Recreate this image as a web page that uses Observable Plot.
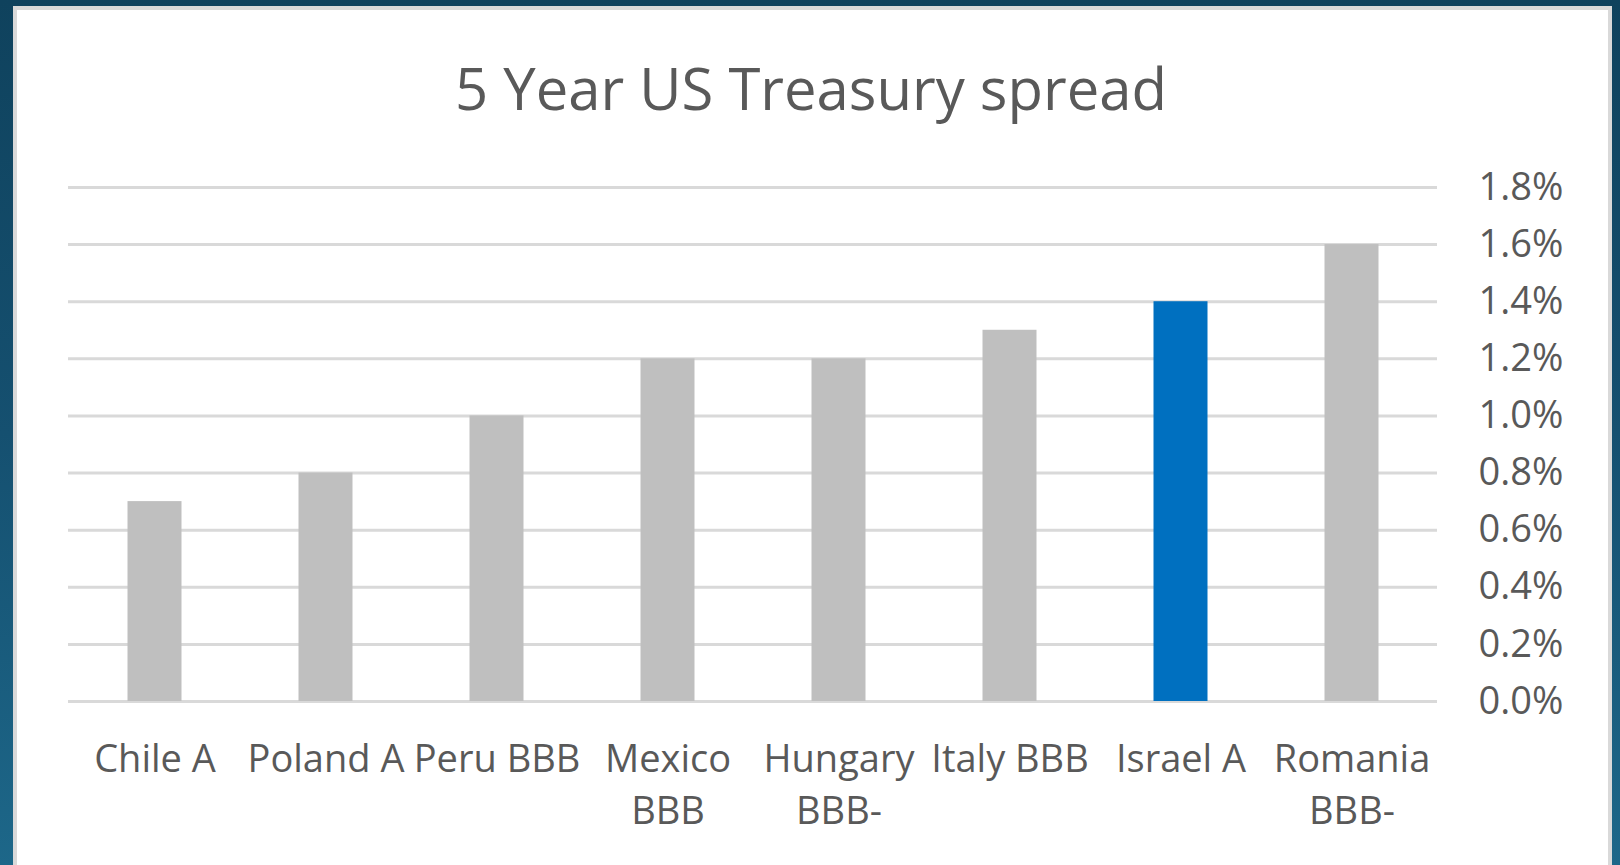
<!DOCTYPE html>
<html><head><meta charset="utf-8">
<script src="https://cdn.jsdelivr.net/npm/d3@7"></script>
<script src="https://cdn.jsdelivr.net/npm/@observablehq/plot@0.6"></script>
<style>
html,body{margin:0;padding:0;}
body{width:1620px;height:865px;overflow:hidden;position:relative;background:linear-gradient(180deg,#0f425d 0%,#155070 50%,#1d6789 100%);font-family:"Open Sans",sans-serif;}
#panel{position:absolute;left:13px;top:6px;width:1599px;height:880px;box-sizing:border-box;border:4px solid #d9d9d9;background:#fff;}
#title{position:absolute;left:0;width:1622px;top:59px;text-align:center;font-size:58px;line-height:1;color:#595959;font-family:"Open Sans",sans-serif;}
#chart{position:absolute;left:0;top:0;}
</style></head><body>
<div id="panel"></div>
<div id="title">5 Year US Treasury spread</div>
<div id="chart"></div>
<script>
const countries = ["Chile A","Poland A","Peru BBB","Mexico BBB","Hungary BBB-","Italy BBB","Israel A","Romania BBB-"];
const axisLabels = ["Chile A","Poland A","Peru BBB","Mexico\nBBB","Hungary\nBBB-","Italy BBB","Israel A","Romania\nBBB-"];
const spreads = [0.7,0.8,1.0,1.2,1.2,1.3,1.4,1.6];
const yTicks = [0,0.2,0.4,0.6,0.8,1.0,1.2,1.4,1.6,1.8];
const highlighted = "Israel A";

const data = countries.map((c,i)=>({country:c, spread:spreads[i]}));

const chart = Plot.plot({
  width:1620, height:865,
  marginLeft:68, marginRight:183, marginTop:187, marginBottom:164,
  x:{domain:countries, padding:0, axis:null, label:null},
  y:{domain:[0,1.8], axis:null, label:null},
  style:{background:"transparent", color:"#595959", fontFamily:"'Open Sans', sans-serif", fontSize:"38px"},
  marks:[
    Plot.ruleY(yTicks,{stroke:"#d9d9d9", strokeWidth:3}),
    Plot.barY(data,{filter:d=>d.country!==highlighted, x:"country", y:"spread", fill:"#bfbfbf", insetLeft:58.5, insetRight:58.5}),
    Plot.barY(data,{filter:d=>d.country===highlighted, x:"country", y:"spread", fill:"#0070c0", insetLeft:58.5, insetRight:58.5}),
    Plot.axisY({anchor:"right", ticks:yTicks, tickSize:0, tickPadding:41, tickFormat:d=>d.toFixed(1)+"%", fontSize:38, fill:"#595959", label:null}),
    Plot.axisX({anchor:"bottom", tickSize:0, tickPadding:33, tickFormat:d=>axisLabels[countries.indexOf(d)], lineHeight:1.376, fontSize:38, fill:"#595959", label:null})
  ]
});
document.getElementById("chart").appendChild(chart);
</script>
</body></html>
